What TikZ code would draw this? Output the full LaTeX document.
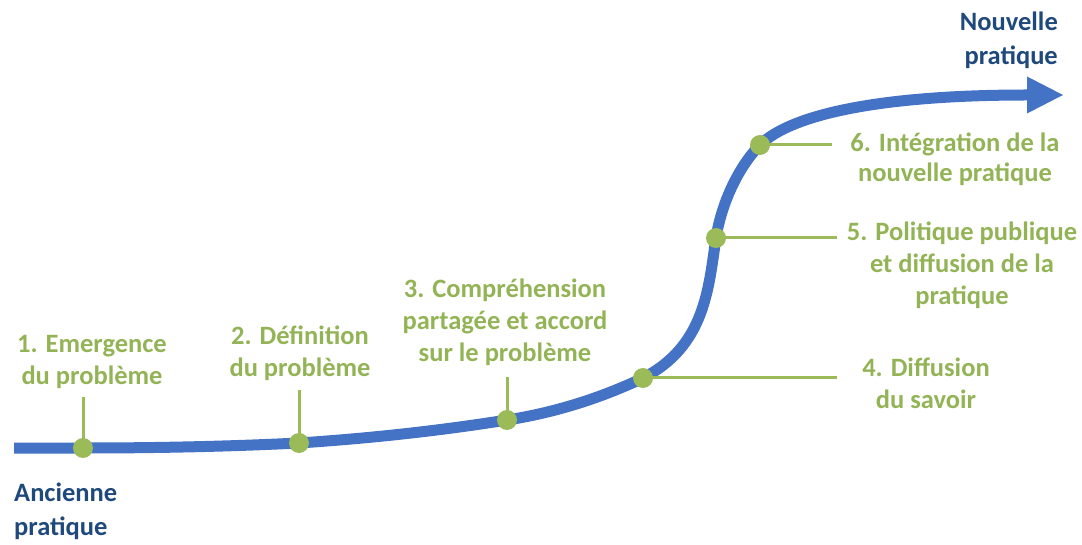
\documentclass[tikz,border=0pt]{standalone}
\usepackage{fontspec}
\setmainfont{Carlito}
\definecolor{cblue}{HTML}{4472C4}
\definecolor{cgreen}{HTML}{9BBB59}
\definecolor{ctext}{HTML}{93B456}
\definecolor{cdark}{HTML}{1F497D}
\begin{document}
\begin{tikzpicture}[x=1pt,y=1pt,
  curve/.style={draw=cblue,line width=11pt},
  tick/.style={draw=cgreen,line width=3pt},
  dot/.style={circle,fill=cgreen,minimum size=20pt,inner sep=0pt},
  lbl/.style={text=ctext,font=\bfseries\fontsize{26.5}{32}\selectfont,align=center,inner sep=0pt},
  endlbl/.style={text=cdark,font=\bfseries\fontsize{26.5}{34}\selectfont,inner sep=0pt}]
\useasboundingbox (0,0) rectangle (1082,544);
% coordinates on the curve
\coordinate (S) at (14,96);
\coordinate (P1) at (83,96);
\coordinate (P2) at (299,101);
\coordinate (P3) at (507,124);
\coordinate (P4) at (643,166);
\coordinate (P5) at (716,306);
\coordinate (P6) at (760,399);
\coordinate (E) at (1027,449);
\coordinate (T) at (1063,449);
% main S-curve
\draw[curve] (S) -- (P1)
  .. controls (156,96) and (228,97.5) .. (P2)
  .. controls (367,105.5) and (436,112.7) .. (P3)
  .. controls (553,131) and (600,145.5) .. (P4)
  .. controls (705.6,198.3) and (708.5,256.5) .. (P5)
  .. controls (721.3,340.6) and (738.8,377.8) .. (P6)
  .. controls (788,427) and (870,449) .. (E);
\fill[cblue] (1027,430.5) -- (T) -- (1027,467.5) -- cycle;
% tick ends
\coordinate (Q1) at (83,147);
\coordinate (Q2) at (299,154);
\coordinate (Q3) at (507,167);
\coordinate (Q4) at (837,166);
\coordinate (Q5) at (837,306);
\coordinate (Q6) at (832,399);
\draw[tick] (P1) -- (Q1);
\draw[tick] (P2) -- (Q2);
\draw[tick] (P3) -- (Q3);
\draw[tick] (P4) -- (Q4);
\draw[tick] (P5) -- (Q5);
\draw[tick] (P6) -- (Q6);
\node[dot] (d1) at (P1) {};
\node[dot] (d2) at (P2) {};
\node[dot] (d3) at (P3) {};
\node[dot] (d4) at (P4) {};
\node[dot] (d5) at (P5) {};
\node[dot] (d6) at (P6) {};
% labels
\node[lbl] (l1) at (92,182) {1. Emergence\\du problème};
\node[lbl] (l2) at (300,191) {2. Définition\\du problème};
\node[lbl] (l3) at (505,222) {3. Compréhension\\partagée et accord\\sur le problème};
\node[lbl] (l4) at (926,161) {4. Diffusion\\du savoir};
\node[lbl] (l5) at (962,279) {5. Politique publique\\et diffusion de la\\pratique};
\node[lbl,font=\bfseries\fontsize{26.5}{30}\selectfont] (l6) at (955,385) {6. Intégration de la\\nouvelle pratique};
\node[endlbl,align=right,anchor=east] (nv) at (1058,504) {Nouvelle\\pratique};
\node[endlbl,align=left,anchor=west] (an) at (14,33) {Ancienne\\pratique};
\end{tikzpicture}
\end{document}
